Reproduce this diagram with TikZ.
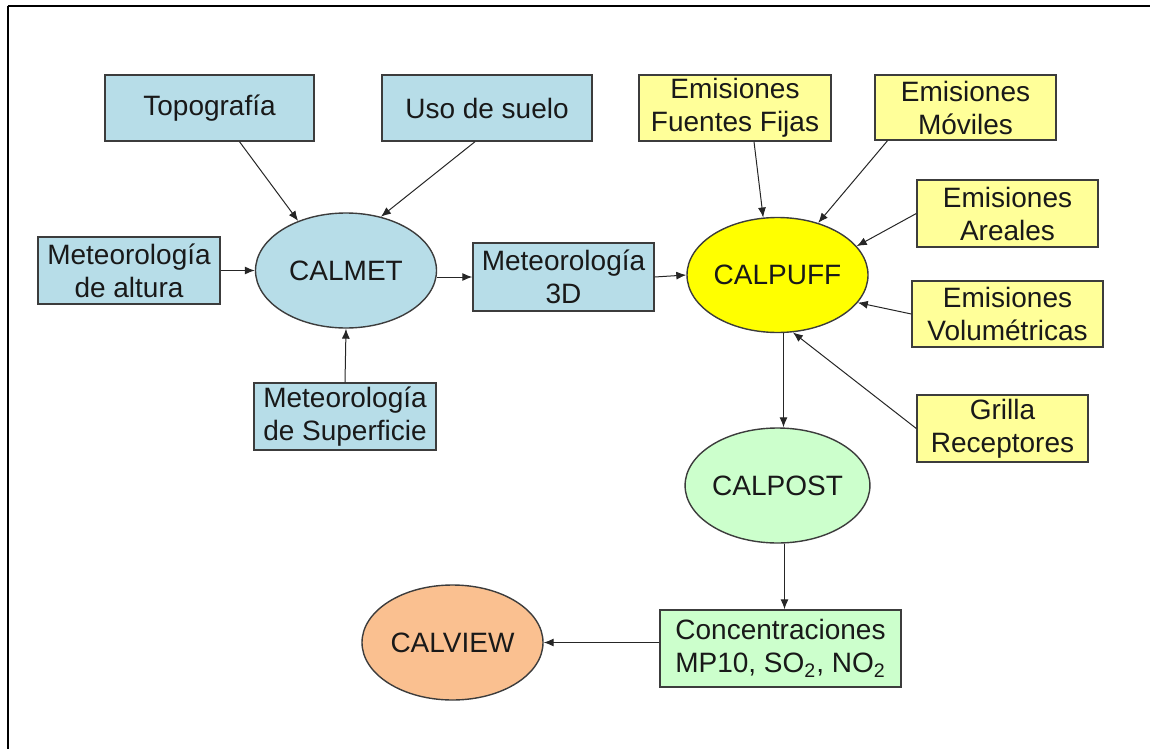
\documentclass[tikz,border=0pt]{standalone}
\usepackage{fontspec}
\setmainfont{Liberation Sans}
\usepackage{tikz}
\usetikzlibrary{positioning,shapes.geometric,arrows.meta}
\definecolor{metblue}{RGB}{183,221,232}
\definecolor{emiyellow}{RGB}{255,255,153}
\definecolor{puffyellow}{RGB}{255,255,0}
\definecolor{postgreen}{RGB}{204,255,204}
\definecolor{vieworange}{RGB}{250,192,144}
\definecolor{edgegray}{RGB}{60,60,60}

\begin{document}
\begin{tikzpicture}[x=0.5pt,y=-0.5pt,
  every node/.style={font=\fontsize{14}{16.5}\selectfont,text=black!90},
  box/.style={draw=edgegray,line width=0.7pt,align=center,inner sep=1pt},
  oval/.style={ellipse,draw=edgegray,line width=0.7pt,inner sep=0pt,minimum width=90.5pt,minimum height=57.5pt},
  arr/.style={-{Latex[length=5pt,width=4pt]},line width=0.5pt,black!85}]
  \useasboundingbox (0,0) rectangle (1150,749);
  % frame
  \draw[line width=1pt] (7.5,6) -- (1150,6);
  \draw[line width=1pt] (8,6) -- (8,749);

  % CALMET side
  \node[box,fill=metblue,minimum width=104.5pt,minimum height=33pt] (topografia) at (209.5,108) {Topografía};
  \node[box,fill=metblue,minimum width=105pt,minimum height=33pt] (suelo) at (487,108) {Uso de suelo};
  \node[box,fill=metblue,minimum width=91pt,minimum height=33.5pt] (altura) at (129,270.5) {Meteorología\\de altura};
  \node[oval,fill=metblue] (calmet) at (346,270.5) {CALMET};
  \node[box,fill=metblue,minimum width=91pt,minimum height=33.5pt] (superficie) at (345,416.5) {Meteorología\\de Superficie};
  \node[box,fill=metblue,minimum width=90.5pt,minimum height=34pt] (met3d) at (563.5,277) {Meteorología\\3D};

  % CALPUFF side
  \node[oval,fill=puffyellow] (calpuff) at (777.5,275) {CALPUFF};
  \node[box,fill=emiyellow,minimum width=96pt,minimum height=33pt] (fijas) at (735,108) {Emisiones\\Fuentes Fijas};
  \node[box,fill=emiyellow,minimum width=90.5pt,minimum height=32.5pt] (moviles) at (965.5,107.5) {Emisiones\\Móviles};
  \node[box,fill=emiyellow,minimum width=90.5pt,minimum height=33.5pt] (areales) at (1007.5,213.5) {Emisiones\\Areales};
  \node[box,fill=emiyellow,minimum width=95.5pt,minimum height=33pt] (volumetricas) at (1007.5,314) {Emisiones\\Volumétricas};
  \node[box,fill=emiyellow,minimum width=85.5pt,minimum height=33.5pt] (grilla) at (1002.5,428.5) {Grilla\\Receptores};

  % post processing
  \node[oval,fill=postgreen] (calpost) at (777.5,485.5) {CALPOST};
  \node[box,fill=postgreen,minimum width=120.5pt,minimum height=38.5pt] (concentraciones) at (780.5,648.5) {Concentraciones\\MP10, SO\textsubscript{2}, NO\textsubscript{2}};
  \node[oval,fill=vieworange] (calview) at (452.5,642.5) {CALVIEW};

  % connectors
  \draw[arr] ([xshift=15pt]topografia.south) -- (calmet.134);
  \draw[arr] ([xshift=-6pt]suelo.south) -- (calmet.57);
  \draw[arr] (altura.east) -- (calmet.west);
  \draw[arr] (superficie.north) -- (calmet.south);
  \draw[arr] (calmet.east |- met3d.west) -- (met3d.west);
  \draw[arr] (met3d.east) -- (calpuff.west);
  \draw[arr] ([xshift=9.5pt]fijas.south) -- (calpuff.104);
  \draw[arr] ([xshift=-39pt]moviles.south) -- (calpuff.52);
  \draw[arr] (areales.west) -- (calpuff.20);
  \draw[arr] (volumetricas.west) -- (calpuff.-19);
  \draw[arr] (grilla.west) -- (calpuff.-75);
  \draw[arr] ([xshift=3pt]calpuff.south) -- ([xshift=3pt]calpost.north);
  \draw[arr] ([xshift=3.5pt]calpost.south) -- ([xshift=3.5pt]calpost.south |- concentraciones.north);
  \draw[arr] (calview.east -| concentraciones.west) -- (calview.east);
\end{tikzpicture}
\end{document}
